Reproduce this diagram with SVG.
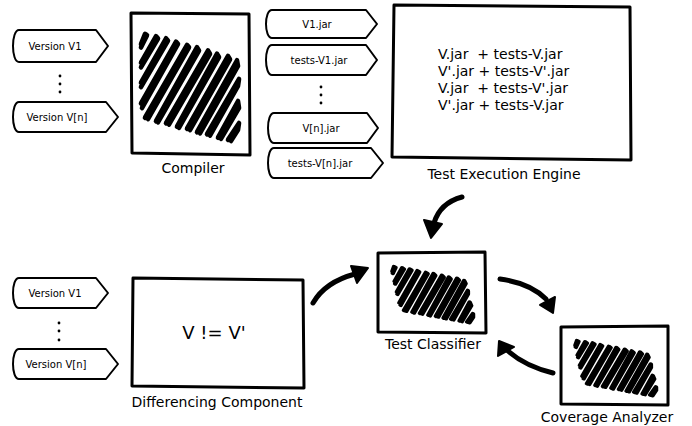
<svg xmlns="http://www.w3.org/2000/svg" xmlns:xlink="http://www.w3.org/1999/xlink" width="692" height="426" viewBox="0 0 692 426">
  <style>
    .tag { fill: #fff; stroke: #000; stroke-width: 2; stroke-linejoin: round; }
    .box { fill: #fff; stroke: #000; stroke-width: 3; stroke-linejoin: round; }
    .small { font-family: "DejaVu Sans", sans-serif; font-size: 10px; fill: #000; text-anchor: middle; }
    .label { font-family: "DejaVu Sans", sans-serif; font-size: 14px; fill: #000; text-anchor: middle; }
    .code { font-family: "DejaVu Sans", sans-serif; font-size: 14px; fill: #000; }
    .big { font-family: "DejaVu Sans", sans-serif; font-size: 18px; fill: #000; text-anchor: middle; }
    .dot { fill: #000; }
    .hatch { fill: none; stroke: #000; stroke-linejoin: round; stroke-linecap: round; }
    .shaft { fill: none; stroke: #000; stroke-width: 5; stroke-linecap: round; }
    .head { fill: #000; stroke: #000; stroke-width: 2; stroke-linejoin: round; }
  </style>
  <defs>
    <!-- hand-drawn hatch used as the "black box" fill of a component; drawn in a 100x100 cell,
         stroke width comes from the <use> that places it -->
    <path id="scribble"
      d="M0,10 L4,1 L6,2 L0,13
         M0,27 L15,3 L17,5 L0,31
         M0,45 L25,5 L27,7 L0,49
         M0,64 L35,8 L37,10 L1,68
         M4,77 L46,11 L48,13 L7,78
         M15,80 L56,13 L58,16 L17,81
         M25,82 L67,16 L69,19 L28,83
         M36,85 L76,19 L78,22 L38,86
         M46,87 L87,21 L89,24 L49,88
         M56,90 L96,25 L97,30 L59,91
         M66,92 L98,42 L97,48 L69,93
         M77,95 L97,62 L98,68 L80,96
         M87,97 L98,82 L97,88 L90,98"/>
  </defs>

  <!-- source versions, top row -->
  <g id="version-v1-top">
    <path class="tag" d="M19,30 H96 L108,46 L96,62 H19 C11,62 11,30 19,30 Z"/>
    <text class="small" x="55" y="50">Version V1</text>
  </g>
  <g id="dots-top">
    <circle class="dot" cx="60" cy="76" r="1.4"/>
    <circle class="dot" cx="60" cy="84" r="1.4"/>
    <circle class="dot" cx="60" cy="92" r="1.4"/>
  </g>
  <g id="version-vn-top">
    <path class="tag" d="M19,102 H106 L118,117 L106,132 H19 C11,132 11,102 19,102 Z"/>
    <text class="small" x="57" y="121">Version V[n]</text>
  </g>

  <g id="compiler">
    <polygon class="box" points="131,13 249,14 250,155 132,153"/>
    <use xlink:href="#scribble" class="hatch" stroke-width="4.6" transform="translate(141,33) scale(1,1.1)"/>
    <text class="label" x="193" y="173">Compiler</text>
  </g>

  <!-- compiled jars -->
  <g id="v1-jar">
    <path class="tag" d="M272,10 H366 L377,24 L366,38 H272 C264,38 264,10 272,10 Z"/>
    <text class="small" x="317" y="28">V1.jar</text>
  </g>
  <g id="tests-v1-jar">
    <path class="tag" d="M272,45 H366 L377,60 L366,75 H272 C264,75 264,45 272,45 Z"/>
    <text class="small" x="319" y="64">tests-V1.jar</text>
  </g>
  <g id="dots-jars">
    <circle class="dot" cx="321" cy="87" r="1.4"/>
    <circle class="dot" cx="321" cy="95" r="1.4"/>
    <circle class="dot" cx="321" cy="103" r="1.4"/>
  </g>
  <g id="vn-jar">
    <path class="tag" d="M274,113 H367 L378,128 L367,143 H274 C266,143 266,113 274,113 Z"/>
    <text class="small" x="321" y="132">V[n].jar</text>
  </g>
  <g id="tests-vn-jar">
    <path class="tag" d="M274,148 H371 L383,163 L371,178 H274 C266,178 266,148 274,148 Z"/>
    <text class="small" x="320" y="167">tests-V[n].jar</text>
  </g>

  <g id="test-execution-engine">
    <polygon class="box" points="394,5 630,7 631,160 392,157"/>
    <text class="code" x="438" y="59" xml:space="preserve">V.jar  + tests-V.jar</text>
    <text class="code" x="438" y="76" xml:space="preserve">V'.jar + tests-V'.jar</text>
    <text class="code" x="438" y="93" xml:space="preserve">V.jar  + tests-V'.jar</text>
    <text class="code" x="438" y="110" xml:space="preserve">V'.jar + tests-V.jar</text>
    <text class="label" x="504" y="179">Test Execution Engine</text>
  </g>

  <!-- source versions, bottom row -->
  <g id="version-v1-bottom">
    <path class="tag" d="M19,278 H96 L108,293 L96,308 H19 C11,308 11,278 19,278 Z"/>
    <text class="small" x="55" y="297">Version V1</text>
  </g>
  <g id="dots-bottom">
    <circle class="dot" cx="59" cy="323" r="1.4"/>
    <circle class="dot" cx="59" cy="331" r="1.4"/>
    <circle class="dot" cx="59" cy="340" r="1.4"/>
  </g>
  <g id="version-vn-bottom">
    <path class="tag" d="M19,349 H106 L118,364 L106,379 H19 C11,379 11,349 19,349 Z"/>
    <text class="small" x="56" y="368">Version V[n]</text>
  </g>

  <g id="differencing-component">
    <polygon class="box" points="133,278 303,280 304,388 132,386"/>
    <text class="big" x="214" y="339" xml:space="preserve">V != V'</text>
    <text class="label" x="217" y="407">Differencing Component</text>
  </g>

  <g id="test-classifier">
    <polygon class="box" points="378,253 485,252 486,333 378,332"/>
    <use xlink:href="#scribble" class="hatch" stroke-width="5.8" transform="translate(391,266) scale(0.73,0.58) skewX(10)"/>
    <text class="label" x="433" y="349">Test Classifier</text>
  </g>

  <g id="coverage-analyzer">
    <polygon class="box" points="561,327 668,326 668,405 561,404"/>
    <use xlink:href="#scribble" class="hatch" stroke-width="5.8" transform="translate(574,340) scale(0.73,0.57) skewX(10)"/>
    <text class="label" x="607" y="422">Coverage Analyzer</text>
  </g>

  <!-- brush-stroke connectors -->
  <g id="connectors">
    <path class="shaft" d="M462,197 Q440,203 434,223"/>
    <polygon class="head" points="424,220 442,224 431,238"/>

    <path class="shaft" d="M313,303 Q325,282 355,274"/>
    <polygon class="head" points="351,266 357,283 368,268"/>

    <path class="shaft" d="M500,279 Q530,283 546,299"/>
    <polygon class="head" points="540,305 555,297 553,313"/>

    <path class="shaft" d="M553,373 Q525,366 508,351"/>
    <polygon class="head" points="499,341 498,356 514,347"/>
  </g>
</svg>
